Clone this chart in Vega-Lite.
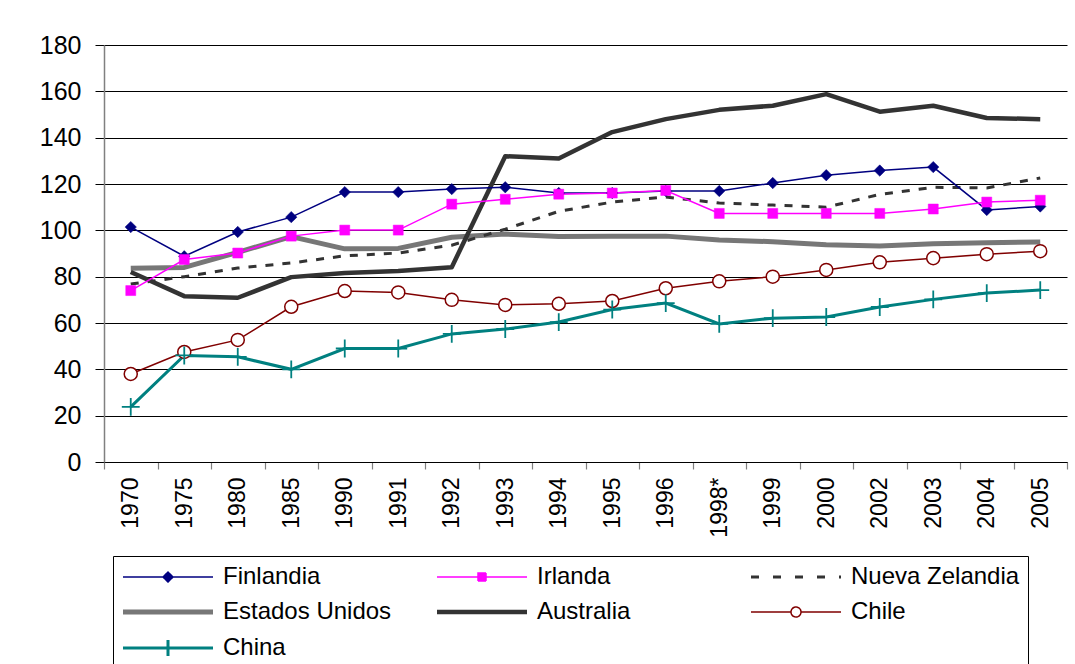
{
  "$schema": "https://vega.github.io/schema/vega-lite/v6.json",
  "width": 963,
  "height": 417,
  "autosize": {"type": "none"},
  "padding": {"left": 104, "top": 45, "right": 8, "bottom": 202},
  "background": "white",
  "config": {
    "font": "Liberation Sans, Arial, sans-serif",
    "view": {"stroke": null}
  },
  "data": {
    "values": [
      {"anio": "1970", "Finlandia": 101.4, "Irlanda": 74, "Nueva Zelandia": 76.8, "Estados Unidos": 83.6, "Australia": 82, "Chile": 38, "China": 23.8},
      {"anio": "1975", "Finlandia": 88.8, "Irlanda": 87.4, "Nueva Zelandia": 80, "Estados Unidos": 84, "Australia": 71.6, "Chile": 47.5, "China": 46},
      {"anio": "1980", "Finlandia": 99.3, "Irlanda": 90.2, "Nueva Zelandia": 83.7, "Estados Unidos": 90.5, "Australia": 70.9, "Chile": 52.7, "China": 45.4},
      {"anio": "1985", "Finlandia": 105.7, "Irlanda": 97.5, "Nueva Zelandia": 85.9, "Estados Unidos": 97.3, "Australia": 79.8, "Chile": 67, "China": 40},
      {"anio": "1990", "Finlandia": 116.5, "Irlanda": 100.1, "Nueva Zelandia": 89, "Estados Unidos": 92, "Australia": 81.6, "Chile": 73.8, "China": 49},
      {"anio": "1991", "Finlandia": 116.5, "Irlanda": 100.1, "Nueva Zelandia": 90.2, "Estados Unidos": 92.2, "Australia": 82.4, "Chile": 73.2, "China": 49},
      {"anio": "1992", "Finlandia": 117.8, "Irlanda": 111.3, "Nueva Zelandia": 93.6, "Estados Unidos": 97, "Australia": 84.1, "Chile": 70, "China": 55.3},
      {"anio": "1993", "Finlandia": 118.6, "Irlanda": 113.4, "Nueva Zelandia": 100.5, "Estados Unidos": 98.4, "Australia": 132, "Chile": 67.8, "China": 57.4},
      {"anio": "1994", "Finlandia": 116.1, "Irlanda": 115.6, "Nueva Zelandia": 108.2, "Estados Unidos": 97.3, "Australia": 131, "Chile": 68.3, "China": 60.4},
      {"anio": "1995", "Finlandia": 116.1, "Irlanda": 116.1, "Nueva Zelandia": 112.2, "Estados Unidos": 97.4, "Australia": 142.4, "Chile": 69.5, "China": 65.8},
      {"anio": "1996", "Finlandia": 117, "Irlanda": 117.2, "Nueva Zelandia": 114.4, "Estados Unidos": 97.5, "Australia": 148, "Chile": 75, "China": 68.6},
      {"anio": "1998*", "Finlandia": 117, "Irlanda": 107.3, "Nueva Zelandia": 111.8, "Estados Unidos": 95.8, "Australia": 152, "Chile": 78, "China": 59.6},
      {"anio": "1999", "Finlandia": 120.4, "Irlanda": 107.3, "Nueva Zelandia": 110.9, "Estados Unidos": 95.1, "Australia": 153.8, "Chile": 80, "China": 62.1},
      {"anio": "2000", "Finlandia": 123.8, "Irlanda": 107.3, "Nueva Zelandia": 110, "Estados Unidos": 93.8, "Australia": 158.8, "Chile": 82.9, "China": 62.6},
      {"anio": "2002", "Finlandia": 125.8, "Irlanda": 107.3, "Nueva Zelandia": 115.5, "Estados Unidos": 93.2, "Australia": 151.2, "Chile": 86.2, "China": 66.9},
      {"anio": "2003", "Finlandia": 127.3, "Irlanda": 109.2, "Nueva Zelandia": 118.6, "Estados Unidos": 94.2, "Australia": 153.8, "Chile": 88, "China": 70.2},
      {"anio": "2004", "Finlandia": 108.8, "Irlanda": 112.2, "Nueva Zelandia": 118.3, "Estados Unidos": 94.6, "Australia": 148.5, "Chile": 89.7, "China": 72.9},
      {"anio": "2005", "Finlandia": 110.3, "Irlanda": 113, "Nueva Zelandia": 122.6, "Estados Unidos": 95, "Australia": 148, "Chile": 91, "China": 74.2}
    ]
  },
  "transform": [
    {"fold": ["Finlandia", "Irlanda", "Nueva Zelandia", "Estados Unidos", "Australia", "Chile", "China"], "as": ["pais", "valor"]}
  ],
  "encoding": {
    "x": {
      "field": "anio",
      "type": "ordinal",
      "sort": null,
      "scale": {"type": "band", "paddingInner": 0, "paddingOuter": 0,
        "domain": ["1970", "1975", "1980", "1985", "1990", "1991", "1992", "1993", "1994", "1995", "1996", "1998*", "1999", "2000", "2002", "2003", "2004", "2005"]},
      "axis": {
        "title": null,
        "tickBand": "extent",
        "labelAngle": -90,
        "labelFontSize": 23,
        "labelColor": "black",
        "labelPadding": 8,
        "tickSize": 7,
        "tickColor": "#808080",
        "tickWidth": 1.2,
        "domainColor": "black",
        "domainWidth": 1,
        "grid": false
      }
    },
    "y": {
      "field": "valor",
      "type": "quantitative",
      "scale": {"domain": [0, 180], "nice": false},
      "axis": {
        "title": null,
        "values": [0, 20, 40, 60, 80, 100, 120, 140, 160, 180],
        "grid": true,
        "gridColor": "black",
        "gridWidth": 1,
        "gridOpacity": 1,
        "tickColor": "black",
        "tickSize": 9,
        "domainColor": "#808080",
        "domainWidth": 1.5,
        "labelFontSize": 25,
        "labelColor": "black",
        "labelPadding": 14
      }
    }
  },
  "layer": [
    {
      "transform": [{"filter": "datum.pais === 'Estados Unidos'"}],
      "mark": {"type": "line", "strokeWidth": 5, "strokeJoin": "round"},
      "encoding": {
        "color": {
          "field": "pais",
          "type": "nominal",
          "sort": ["Finlandia", "Irlanda", "Nueva Zelandia", "Estados Unidos", "Australia", "Chile", "China"],
          "scale": {
            "domain": ["Finlandia", "Irlanda", "Nueva Zelandia", "Estados Unidos", "Australia", "Chile", "China"],
            "range": ["#000080", "#ff00ff", "#333333", "#777777", "#333333", "#800000", "#008080"]
          },
          "legend": {
            "orient": "none",
            "legendX": 9,
            "legendY": 511,
            "direction": "horizontal",
            "title": null,
            "columns": 3,
            "gridAlign": "all",
            "columnPadding": 36,
            "rowPadding": 8,
            "symbolSize": 400,
            "labelOffset": 78,
            "labelFontSize": 24,
            "labelColor": "black",
            "labelLimit": 400,
            "strokeColor": "black",
            "padding": 8,
            "encode": {
              "symbols": {
                "update": {
                  "shape": {"signal": "datum.value === 'Finlandia' ? 'M-1,0H8M3.5,-0.5L4,0L3.5,0.5L3,0Z' : datum.value === 'Irlanda' ? 'M-1,0H8M3.1,-0.4H3.9V0.4H3.1Z' : datum.value === 'Chile' ? 'M-1,0H3M4,0H8M3,0A0.5,0.5 0 1 1 4,0A0.5,0.5 0 1 1 3,0' : datum.value === 'China' ? 'M-1,0H8M3.5,-0.8V0.8' : 'M-1,0H8'"},
                  "fill": {"signal": "datum.value === 'Finlandia' ? '#000080' : datum.value === 'Irlanda' ? '#ff00ff' : datum.value === 'Chile' ? 'white' : 'transparent'"},
                  "strokeWidth": {"signal": "datum.value === 'Estados Unidos' ? 5 : datum.value === 'Australia' ? 4.5 : (datum.value === 'Nueva Zelandia' || datum.value === 'China') ? 3 : 1.5"},
                  "strokeDash": {"signal": "datum.value === 'Nueva Zelandia' ? [8, 14] : [1, 0]"},
                  "opacity": {"value": 1}
                }
              }
            }
          }
        }
      }
    },
    {
      "transform": [{"filter": "datum.pais === 'Nueva Zelandia'"}],
      "mark": {"type": "line", "strokeWidth": 3, "strokeDash": [8, 9]},
      "encoding": {"color": {"field": "pais", "type": "nominal", "legend": null, "scale": {"domain": ["Finlandia", "Irlanda", "Nueva Zelandia", "Estados Unidos", "Australia", "Chile", "China"], "range": ["#000080", "#ff00ff", "#333333", "#777777", "#333333", "#800000", "#008080"]}}}
    },
    {
      "transform": [{"filter": "datum.pais === 'Australia'"}],
      "mark": {"type": "line", "strokeWidth": 4.5, "strokeJoin": "round"},
      "encoding": {"color": {"field": "pais", "type": "nominal", "legend": null, "scale": {"domain": ["Finlandia", "Irlanda", "Nueva Zelandia", "Estados Unidos", "Australia", "Chile", "China"], "range": ["#000080", "#ff00ff", "#333333", "#777777", "#333333", "#800000", "#008080"]}}}
    },
    {
      "transform": [{"filter": "datum.pais === 'Chile'"}],
      "mark": {"type": "line", "strokeWidth": 1.5},
      "encoding": {"color": {"field": "pais", "type": "nominal", "legend": null, "scale": {"domain": ["Finlandia", "Irlanda", "Nueva Zelandia", "Estados Unidos", "Australia", "Chile", "China"], "range": ["#000080", "#ff00ff", "#333333", "#777777", "#333333", "#800000", "#008080"]}}}
    },
    {
      "transform": [{"filter": "datum.pais === 'Finlandia'"}],
      "mark": {"type": "line", "strokeWidth": 1.5},
      "encoding": {"color": {"field": "pais", "type": "nominal", "legend": null, "scale": {"domain": ["Finlandia", "Irlanda", "Nueva Zelandia", "Estados Unidos", "Australia", "Chile", "China"], "range": ["#000080", "#ff00ff", "#333333", "#777777", "#333333", "#800000", "#008080"]}}}
    },
    {
      "transform": [{"filter": "datum.pais === 'Irlanda'"}],
      "mark": {"type": "line", "strokeWidth": 1.5},
      "encoding": {"color": {"field": "pais", "type": "nominal", "legend": null, "scale": {"domain": ["Finlandia", "Irlanda", "Nueva Zelandia", "Estados Unidos", "Australia", "Chile", "China"], "range": ["#000080", "#ff00ff", "#333333", "#777777", "#333333", "#800000", "#008080"]}}}
    },
    {
      "transform": [{"filter": "datum.pais === 'China'"}],
      "mark": {"type": "line", "strokeWidth": 3},
      "encoding": {"color": {"field": "pais", "type": "nominal", "legend": null, "scale": {"domain": ["Finlandia", "Irlanda", "Nueva Zelandia", "Estados Unidos", "Australia", "Chile", "China"], "range": ["#000080", "#ff00ff", "#333333", "#777777", "#333333", "#800000", "#008080"]}}}
    },
    {
      "transform": [{"filter": "datum.pais === 'Finlandia'"}],
      "mark": {"type": "point", "shape": "diamond", "size": 130, "filled": true, "fill": "#000080", "stroke": "#000080", "strokeWidth": 0.5, "opacity": 1}
    },
    {
      "transform": [{"filter": "datum.pais === 'Irlanda'"}],
      "mark": {"type": "point", "shape": "square", "size": 100, "filled": true, "fill": "#ff00ff", "stroke": "#ff00ff", "strokeWidth": 0.5, "opacity": 1}
    },
    {
      "transform": [{"filter": "datum.pais === 'Chile'"}],
      "mark": {"type": "point", "shape": "circle", "size": 170, "filled": true, "fill": "white", "stroke": "#800000", "strokeWidth": 1.5, "opacity": 1}
    },
    {
      "transform": [{"filter": "datum.pais === 'China'"}],
      "mark": {"type": "point", "shape": "M-1,0H1M0,-1V1", "size": 320, "filled": false, "stroke": "#008080", "strokeWidth": 1.8, "opacity": 1}
    }
  ]
}
